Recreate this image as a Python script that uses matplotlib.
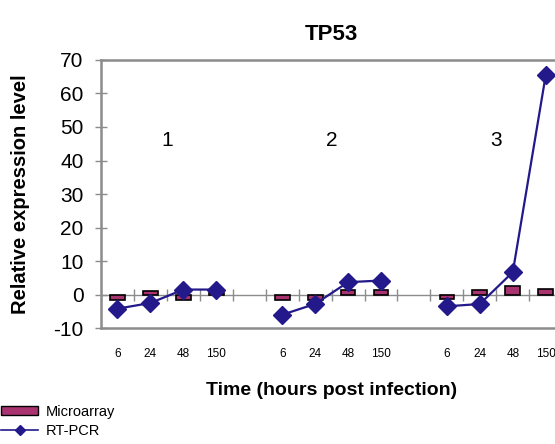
import matplotlib
matplotlib.use("Agg")
import matplotlib.pyplot as plt
from matplotlib.patches import Patch
from matplotlib.lines import Line2D
import numpy as np

plt.rcParams['font.family'] = ['Liberation Sans', 'DejaVu Sans']
plt.rcParams['axes.unicode_minus'] = False

# data
hours = ['6', '24', '48', '150']
groups = ['1', '2', '3']
microarray = [[-1.5, 1.2, -1.5, 0.5],
              [-1.5, -1.5, 1.3, 1.3],
              [-1.3, 1.3, 2.5, 1.8]]
rtpcr = [[-4.2, -2.5, 1.5, 1.5],
         [-6.0, -2.8, 3.7, 4.2],
         [-3.5, -2.8, 6.7, 65.5]]

bar_color = '#A8336F'
line_color = '#23198A'
frame_gray = '#8C8C8C'

fig = plt.figure(figsize=(5.55, 4.44), dpi=100)
ax = fig.add_axes([0.182, 0.261, 0.831, 0.604])

xpos_all = []
for g in range(len(groups)):
    xpos = np.arange(len(hours)) + g * (len(hours) + 1)
    xpos_all.extend(xpos)
    ax.bar(xpos, microarray[g], width=0.45, color=bar_color, edgecolor='black',
           linewidth=1.2, zorder=3)
    ax.plot(xpos, rtpcr[g], color=line_color, lw=1.6, marker='D', markersize=9,
            zorder=4)
    ax.text(xpos.mean(), 46, groups[g], fontsize=15, ha='center', va='center')

# x axis line crossing at zero, with tick marks between categories
ax.axhline(0, color=frame_gray, lw=1.0, zorder=2)
bounds = np.arange(-0.5, 14, 1.0)
ax.plot(bounds, np.zeros_like(bounds), ls='none', marker='|', markersize=8,
        color=frame_gray, mew=1.0, zorder=2)

ax.set_xlim(-0.5, 13.5)
ax.set_ylim(-10, 70)
ax.set_yticks(np.arange(-10, 71, 10))
ax.set_xticks(xpos_all)
ax.set_xticklabels(hours * len(groups), fontsize=8.5)
ax.tick_params(axis='x', length=0, pad=14)
ax.tick_params(axis='y', direction='inout', length=9, width=1.0, color=frame_gray,
               labelsize=15, pad=8)
for s in ax.spines.values():
    s.set_color(frame_gray)
    s.set_linewidth(1.8)

ax.set_title('TP53', fontsize=16, fontweight='bold', pad=14)
ax.set_xlabel('Time (hours post infection)', fontsize=14, fontweight='bold', labelpad=16)
ax.set_ylabel('Relative expression level', fontsize=14.5, fontweight='bold', labelpad=17)

handles = [Patch(facecolor=bar_color, edgecolor='black', linewidth=1.0),
           Line2D([], [], color=line_color, lw=1.2, marker='D', markersize=5)]
fig.legend(handles, ['Microarray', 'RT-PCR'], loc='lower left',
           bbox_to_anchor=(-0.02, -0.012), frameon=False,
           fontsize=10.5, handlelength=2.6, handleheight=0.5, labelspacing=0.35,
           borderpad=0.3, handletextpad=0.5)

fig.savefig('out.png', dpi=100)
